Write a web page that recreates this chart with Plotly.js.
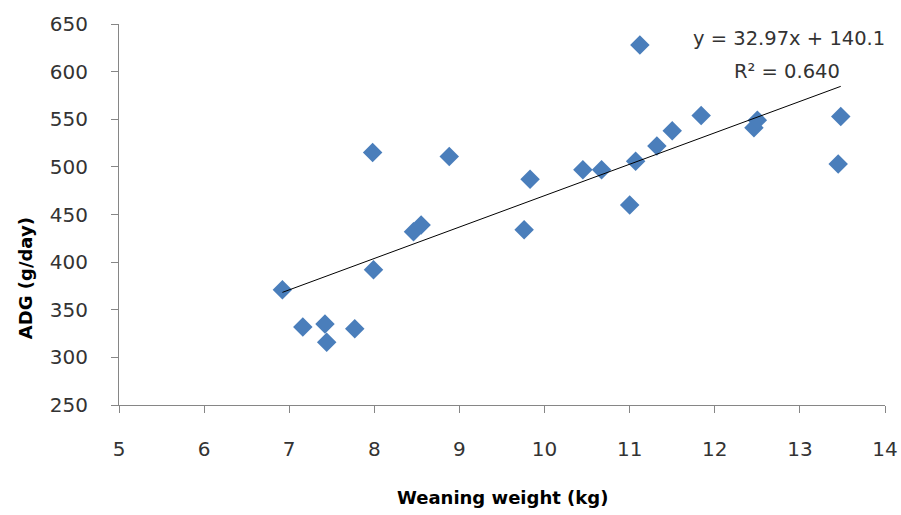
<!DOCTYPE html>
<html>
<head>
<meta charset="utf-8">
<script src="https://cdn.plot.ly/plotly-3.0.1.min.js"></script>
<style>html,body{margin:0;padding:0;background:#fff;}#chart{width:901px;height:515px;}</style>
</head>
<body>
<div id="chart"></div>
<script>
// Weaning weight (kg)
const weaningWeight = [6.92, 7.16, 7.42, 7.44, 7.77, 7.98, 7.99, 8.46, 8.55, 8.88, 9.76, 9.83, 10.45, 10.67, 11.00, 11.07, 11.12, 11.32, 11.50, 11.84, 12.46, 12.50, 13.45, 13.48];
// ADG (g/day)
const adg = [371, 332, 335, 316, 330, 515, 392, 432, 439, 511, 434, 487, 497, 497, 460, 506, 628, 522, 538, 554, 541, 549, 503, 553];
// Trendline coefficients (as printed on chart)
const slope = 32.97;
const intercept = 140.1;
const equationText = "y = 32.97x + 140.1";
const r2Text = "R² = 0.640";
const xTitle = "Weaning weight (kg)";
const yTitle = "ADG (g/day)";

const xMin = Math.min(...weaningWeight), xMax = Math.max(...weaningWeight);
const trendX = [xMin, xMax];
const trendY = trendX.map(v => slope * v + intercept);

const fontFam = "DejaVu Sans, Liberation Sans, Arial, sans-serif";
const axisGray = "#868686";
const textColor = "#333333";

const data = [
  {
    x: weaningWeight, y: adg, type: "scatter", mode: "markers",
    marker: {symbol: "diamond", size: 15, color: "#4a7ebb", line: {width: 0}},
    hoverinfo: "x+y", showlegend: false
  },
  {
    x: trendX, y: trendY, type: "scatter", mode: "lines",
    line: {color: "#000000", width: 1}, hoverinfo: "skip", showlegend: false
  }
];

const layout = {
  width: 901, height: 515,
  margin: {l: 119, r: 16, t: 24, b: 110},
  paper_bgcolor: "#ffffff", plot_bgcolor: "#ffffff",
  showlegend: false,
  font: {family: fontFam, color: textColor, size: 20},
  xaxis: {
    range: [5, 14], dtick: 1, tick0: 5,
    showgrid: false, zeroline: false,
    showline: true, linecolor: axisGray, linewidth: 1,
    ticks: "outside", ticklen: 7, tickcolor: axisGray, tickwidth: 1,
    ticklabelstandoff: 19,
    tickfont: {family: fontFam, size: 20, color: textColor},
    fixedrange: true
  },
  yaxis: {
    range: [250, 650], dtick: 50, tick0: 250,
    showgrid: false, zeroline: false,
    showline: true, linecolor: axisGray, linewidth: 1,
    ticks: "outside", ticklen: 7, tickcolor: axisGray, tickwidth: 1,
    ticklabelstandoff: 19,
    tickfont: {family: fontFam, size: 20, color: textColor},
    fixedrange: true
  },
  annotations: [
    {text: equationText, xref: "paper", yref: "paper", x: 0.875, y: 0.963,
     xanchor: "center", yanchor: "middle", showarrow: false,
     font: {family: fontFam, size: 19.5, color: textColor}},
    {text: r2Text, xref: "paper", yref: "paper", x: 0.872, y: 0.876,
     xanchor: "center", yanchor: "middle", showarrow: false,
     font: {family: fontFam, size: 19.5, color: textColor}},
    {text: "<b>" + xTitle + "</b>", xref: "paper", yref: "paper", x: 0.501, y: -0.244,
     xanchor: "center", yanchor: "middle", showarrow: false,
     font: {family: fontFam, size: 18, color: "#000000"}},
    {text: "<b>" + yTitle + "</b>", xref: "paper", yref: "paper", x: -0.1227, y: 0.333,
     xanchor: "center", yanchor: "middle", showarrow: false, textangle: -90,
     font: {family: fontFam, size: 18, color: "#000000"}}
  ]
};

Plotly.newPlot("chart", data, layout, {displayModeBar: false, staticPlot: true});
</script>
</body>
</html>
